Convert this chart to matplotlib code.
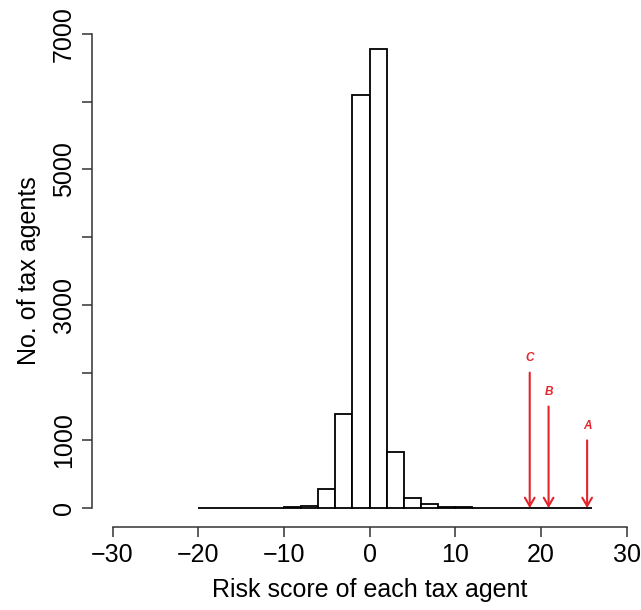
import matplotlib
matplotlib.use("Agg")
import matplotlib.pyplot as plt
import numpy as np

# histogram of risk scores (bin width 2)
bin_edges = np.arange(-20, 28, 2)
counts = [1, 0, 1, 2, 3, 10, 35, 280, 1390, 6100, 6780, 830, 150, 60, 20, 12,
          2, 1, 0, 1, 1, 0, 1]

# flagged agents
arrow_labels = ["C", "B", "A"]
arrow_x = [18.7, 20.9, 25.4]
arrow_top = [2000, 1500, 1000]

xticks = [-30, -20, -10, 0, 10, 20, 30]
yticks = [0, 1000, 2000, 3000, 4000, 5000, 6000, 7000]
# R skips every other label when they would overlap
ytick_labels = [str(v) if v in (0, 1000, 3000, 5000, 7000) else "" for v in yticks]

plt.rcParams['font.family'] = ['Liberation Sans', 'DejaVu Sans']

fig = plt.figure(figsize=(6.41, 6.10), dpi=100)
ax = fig.add_axes([0.1435, 0.136, 0.866, 0.8394])

ax.bar(bin_edges[:-1], counts, width=2, align='edge', facecolor='white',
       edgecolor='black', linewidth=1.3)

red = '#e3242b'
for lab, x, top in zip(arrow_labels, arrow_x, arrow_top):
    ax.annotate("", xy=(x, 0), xytext=(x, top),
                arrowprops=dict(arrowstyle='->,head_length=0.6,head_width=0.35',
                                color=red, lw=1.5, shrinkA=0, shrinkB=0))
    ax.text(x, top + 120, lab, color=red, fontsize=8.5, fontweight='bold',
            fontstyle='italic', ha='center', va='bottom')

ax.set_xlim(-32.4, 32.4)
ax.set_ylim(-280, 7280)

for s in ['top', 'right']:
    ax.spines[s].set_visible(False)
ax.spines['left'].set_bounds(0, 7000)
ax.spines['bottom'].set_bounds(-30, 30)
for s in ['left', 'bottom']:
    ax.spines[s].set_linewidth(1.1)
    ax.spines[s].set_color('#333333')

ax.set_xticks(xticks)
ax.set_yticks(yticks)
ax.set_yticklabels(ytick_labels, rotation=90, va='center')
ax.tick_params(axis='both', length=7.5, width=1.1, color='#333333',
               labelsize=18, pad=4)

ax.set_xlabel("Risk score of each tax agent", fontsize=18, labelpad=8)
ax.set_ylabel("No. of tax agents", fontsize=18, labelpad=8)

fig.savefig("out.png", dpi=100)
